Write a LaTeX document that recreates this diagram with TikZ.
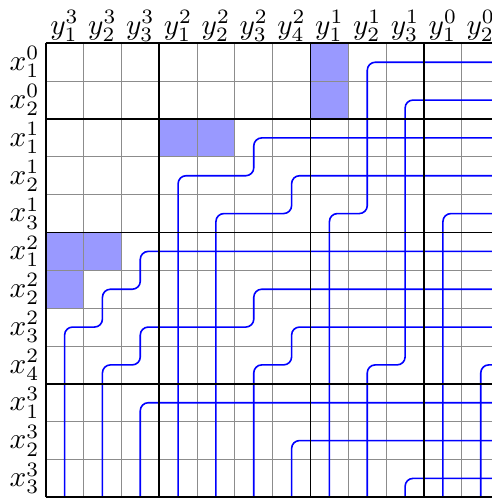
\documentclass[tikz,border=0pt]{standalone}
\usepackage{graphicx}
\begin{document}
\begin{tikzpicture}[x=1cm,y=-1cm,
  thingrid/.style={black!45,line width=0.6pt},
  blockline/.style={black,line width=1.25pt},
  shadecell/.style={fill=blue!40},
  wire/.style={blue,line width=1.2pt,rounded corners=6pt},
  lab/.style={inner sep=1pt}]
\useasboundingbox (-1.208,-1.145) rectangle (11.771,12.045);
% shaded cells
\fill[shadecell] (7,0) rectangle (8,2);
\fill[shadecell] (3,2) rectangle (5,3);
\fill[shadecell] (0,5) rectangle (2,6);
\fill[shadecell] (0,6) rectangle (1,7);
% thin grid
\draw[thingrid] (0,0) grid (12,12);
% wires
\draw[wire] (12,0.5) -- (8.5,0.5) -- (8.5,4.5) -- (7.5,4.5) -- (7.5,12);
\draw[wire] (12,1.5) -- (9.5,1.5) -- (9.5,8.5) -- (8.5,8.5) -- (8.5,12);
\draw[wire] (12,2.5) -- (5.5,2.5) -- (5.5,3.5) -- (3.5,3.5) -- (3.5,12);
\draw[wire] (12,3.5) -- (6.5,3.5) -- (6.5,4.5) -- (4.5,4.5) -- (4.5,12);
\draw[wire] (12,4.5) -- (10.5,4.5) -- (10.5,12);
\draw[wire] (12,5.5) -- (2.5,5.5) -- (2.5,6.5) -- (1.5,6.5) -- (1.5,7.5) -- (0.5,7.5) -- (0.5,12);
\draw[wire] (12,6.5) -- (5.5,6.5) -- (5.5,7.5) -- (2.5,7.5) -- (2.5,8.5) -- (1.5,8.5) -- (1.5,12);
\draw[wire] (12,7.5) -- (6.5,7.5) -- (6.5,8.5) -- (5.5,8.5) -- (5.5,12);
\draw[wire] (12,8.5) -- (11.5,8.5) -- (11.5,12);
\draw[wire] (12,9.5) -- (2.5,9.5) -- (2.5,12);
\draw[wire] (12,10.5) -- (6.5,10.5) -- (6.5,12);
\draw[wire] (12,11.5) -- (9.5,11.5) -- (9.5,12);
% block lines
\foreach \c in {0,3,7,10,12} \draw[blockline] (\c,0) -- (\c,12);
\foreach \r in {0,2,5,9,12} \draw[blockline] (0,\r) -- (12,\r);
% column labels
\foreach \lbl [count=\i from 0] in {y_1^3,y_2^3,y_3^3,y_1^2,y_2^2,y_3^2,y_4^2,y_1^1,y_2^1,y_3^1,y_1^0,y_2^0}
  \node[lab,anchor=south] (c\i) at (\i+0.5,-0.01) {\scalebox{2.2}{$\lbl$}};
% row labels
\foreach \lbl [count=\j from 0] in {x_1^0,x_2^0,x_1^1,x_2^1,x_3^1,x_1^2,x_2^2,x_3^2,x_4^2,x_1^3,x_2^3,x_3^3}
  \node[lab,anchor=east] (r\j) at (-0.12,\j+0.5) {\scalebox{2.2}{$\lbl$}};
\end{tikzpicture}
\end{document}
